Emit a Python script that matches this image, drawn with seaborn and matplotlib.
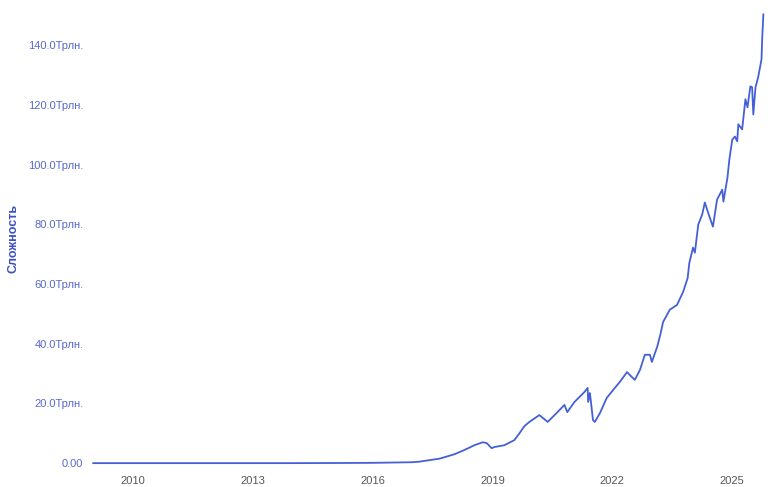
import matplotlib
matplotlib.use("Agg")
import matplotlib.dates as mdates
import matplotlib.pyplot as plt
import matplotlib.ticker as mticker
import pandas as pd
import seaborn as sns

# difficulty, trillions
dates = [
    "2009-01-03", "2010-01-01", "2011-01-01", "2012-01-01", "2013-01-01",
    "2014-01-01", "2015-01-01", "2016-01-01", "2016-07-01", "2017-01-01",
    "2017-03-05", "2017-09-05", "2018-01-20", "2018-04-20", "2018-07-20",
    "2018-10-05", "2018-11-10", "2018-12-25", "2019-01-20", "2019-04-20",
    "2019-07-20", "2019-09-05", "2019-10-20", "2019-12-05", "2020-03-05",
    "2020-05-20", "2020-08-10", "2020-10-20", "2020-11-15", "2021-01-20",
    "2021-04-20", "2021-05-20", "2021-05-25", "2021-06-10", "2021-07-08",
    "2021-07-25", "2021-09-10", "2021-11-10", "2022-01-08", "2022-03-10",
    "2022-05-15", "2022-06-10", "2022-07-25", "2022-09-10", "2022-10-25",
    "2022-12-10", "2022-12-28", "2023-02-15", "2023-03-15", "2023-04-10",
    "2023-06-10", "2023-08-15", "2023-10-10", "2023-11-20", "2023-12-05",
    "2024-01-08", "2024-01-25", "2024-02-25", "2024-04-01", "2024-04-25",
    "2024-05-25", "2024-07-08", "2024-08-15", "2024-10-01", "2024-10-12",
    "2024-11-18", "2024-12-05", "2025-01-01", "2025-01-25", "2025-02-15",
    "2025-02-25", "2025-04-01", "2025-05-01", "2025-05-20", "2025-06-15",
    "2025-07-01", "2025-07-12", "2025-08-01", "2025-08-25", "2025-09-25",
    "2025-10-01", "2025-10-12",
]
difficulty = [
    0.0, 0.0, 0.0, 0.0, 0.0,
    0.002, 0.04, 0.1, 0.2, 0.3,
    0.5, 1.5, 3.0, 4.4, 6.0,
    7.0, 6.7, 5.0, 5.4, 6.0,
    7.7, 10.0, 12.4, 13.8, 16.1,
    13.8, 16.8, 19.5, 17.1, 20.5,
    23.8, 25.2, 20.5, 23.5, 14.4,
    13.8, 16.8, 21.8, 24.5, 27.2,
    30.5, 29.5, 27.9, 31.2, 36.3,
    36.3, 33.9, 39.0, 43.0, 47.3,
    51.4, 53.0, 57.4, 62.0, 67.0,
    72.2, 70.5, 79.9, 83.3, 87.3,
    83.9, 79.2, 88.3, 91.6, 87.6,
    95.7, 101.7, 108.4, 109.4, 107.8,
    113.5, 111.8, 121.9, 119.2, 126.2,
    125.9, 116.8, 125.9, 129.2, 135.3,
    142.0, 150.4,
]
y_ticks = [0, 20, 40, 60, 80, 100, 120, 140]

LINE = "#4560d6"
TICK_BLUE = "#5869c8"
LABEL_BLUE = "#3d50c2"


def fmt_trln(v, _pos):
    if v == 0:
        return "0.00"
    return f"{v:.1f}Трлн."


def main() -> None:
    sns.set_theme(style="white")
    plt.rcParams["font.family"] = ["Liberation Sans", "DejaVu Sans"]

    df = pd.DataFrame({"date": pd.to_datetime(dates), "difficulty": difficulty})

    fig = plt.figure(figsize=(7.75, 4.87), dpi=100)
    ax = fig.add_axes([0.12, 0.049, 0.865, 0.922])
    sns.lineplot(data=df, x="date", y="difficulty", color=LINE, linewidth=1.3, ax=ax)
    for line in ax.lines:
        line.set_clip_on(False)

    ax.set_xlim(df["date"].min(), df["date"].max())
    ax.set_ylim(0, max(difficulty))
    ax.set_yticks(y_ticks)
    ax.yaxis.set_major_formatter(mticker.FuncFormatter(fmt_trln))
    ax.xaxis.set_major_locator(mdates.YearLocator(3))
    ax.xaxis.set_major_formatter(mdates.DateFormatter("%Y"))

    ax.tick_params(axis="y", length=0, pad=7, labelsize=8, labelcolor=TICK_BLUE)
    ax.tick_params(axis="x", length=0, pad=9, labelsize=8, labelcolor="#555555")
    ax.set_xlabel("")
    ax.set_ylabel("Сложность", color=LABEL_BLUE, fontsize=9, weight="bold")
    ax.yaxis.set_label_coords(-0.109, 0.5)
    sns.despine(ax=ax, left=True, bottom=True)
    ax.grid(False)

    fig.savefig("out.png", dpi=100)
    plt.close(fig)


if __name__ == "__main__":
    main()
